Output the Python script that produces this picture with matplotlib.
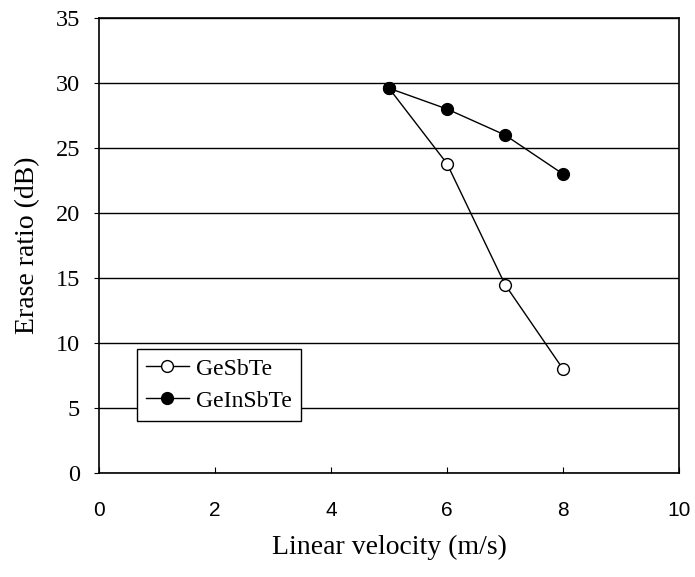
import numpy as np
import matplotlib.pyplot as plt

velocity = [5, 6, 7, 8]
gesbte = [29.6, 23.8, 14.5, 8.0]
geinsbte = [29.6, 28.0, 26.0, 23.0]

fig = plt.figure(figsize=(6.95, 5.77), dpi=100)
ax = fig.add_axes([0.1424, 0.1802, 0.8346, 0.7886])

ax.plot(velocity, gesbte, color='black', lw=1.0, marker='o', ms=8.5,
        mfc='white', mec='black', mew=1.0, label='GeSbTe', zorder=3)
ax.plot(velocity, geinsbte, color='black', lw=1.0, marker='o', ms=8.5,
        mfc='black', mec='black', label='GeInSbTe', zorder=4)

ax.set_xlim(0, 10)
ax.set_ylim(0, 35)
ax.set_xticks(np.arange(0, 11, 2))
ax.set_yticks(np.arange(0, 36, 5))
ax.yaxis.grid(True, color='black', lw=1.0)
ax.set_axisbelow(True)

for lab in ax.get_xticklabels():
    lab.set_family('Liberation Sans')
    lab.set_fontsize(15)
for lab in ax.get_yticklabels():
    lab.set_family('Liberation Serif')
    lab.set_fontsize(17.5)
ax.tick_params(axis='x', direction='in', length=4, pad=20, color='black')
ax.tick_params(axis='y', direction='out', length=3.6, pad=10, color='black')

for s in ax.spines.values():
    s.set_linewidth(1.2)
    s.set_color('black')

ax.set_xlabel('Linear velocity (m/s)', family='Liberation Serif', fontsize=20, labelpad=11)
ax.set_ylabel('Erase ratio (dB)', family='Liberation Serif', fontsize=20, labelpad=11)

leg = ax.legend(loc='lower left', bbox_to_anchor=(0.065, 0.114),
                prop={'family': 'Liberation Serif', 'size': 17},
                fancybox=False, edgecolor='black', framealpha=1,
                handlelength=1.8, borderpad=0.4, labelspacing=0.45,
                handletextpad=0.3, borderaxespad=0)
leg.get_frame().set_linewidth(1.0)

fig.savefig('out.png', dpi=100)
